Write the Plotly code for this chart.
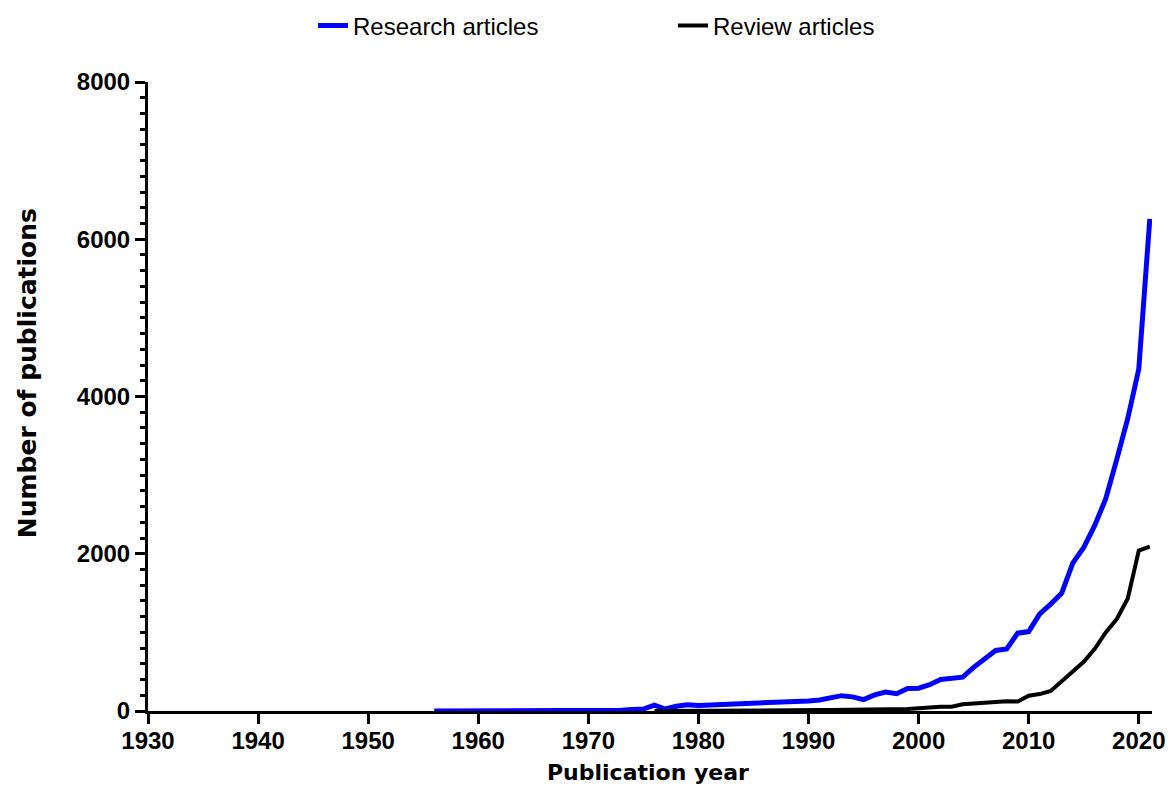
import plotly.graph_objects as go

research_years = list(range(1956, 2022))
research_counts = [
    0, 0, 0, 0, 0, 0, 0, 0,          # 1956-1963
    10, 10, 10, 10, 10, 10,          # 1964-1969
    5, 0, 5, 10, 20, 25,             # 1970-1975
    75, 25, 60, 80, 70, 75, 80, 80, 90, 100,   # 1976-1985
    105, 115, 120, 120, 128, 140, 170, 195, 180, 145,  # 1986-1995
    205, 240, 220, 285, 290, 335, 400, 410, 430, 555,  # 1996-2005
    665, 770, 790, 990, 1010, 1235, 1360, 1500, 1880, 2080,  # 2006-2015
    2360, 2700, 3200, 3720, 4350, 6260,  # 2016-2021
]

review_years = list(range(1976, 2022))
review_counts = [
    0, 0, 0, 2, 3, 3, 4, 5, 5, 5,        # 1976-1985
    6, 7, 8, 8, 10, 12, 14, 15, 15, 15,  # 1986-1995
    18, 20, 22, 25, 35, 50, 55, 55, 85, 95,  # 1996-2005
    100, 115, 125, 120, 195, 215, 255, 380, 490, 625,  # 2006-2015
    790, 1000, 1170, 1430, 2040, 2090,  # 2016-2021
]

x_ticks = [1930, 1940, 1950, 1960, 1970, 1980, 1990, 2000, 2010, 2020]
y_ticks = [0, 2000, 4000, 6000, 8000]

fig = go.Figure()
fig.add_trace(go.Scatter(x=research_years, y=research_counts, mode="lines",
                         name="Research articles",
                         line=dict(color="#0000FF", width=5)))
fig.add_trace(go.Scatter(x=review_years, y=review_counts, mode="lines",
                         name="Review articles",
                         line=dict(color="#000000", width=4)))

tickfont = dict(family="Liberation Sans, Arial, sans-serif", size=24,
                color="black", weight="bold")
title_family = "DejaVu Sans, sans-serif"

fig.update_layout(
    width=1170, height=788,
    margin=dict(l=148, r=18, t=82, b=77, autoexpand=False),
    paper_bgcolor="white", plot_bgcolor="white",
    showlegend=True,
    legend=dict(orientation="h", xref="container", yref="container",
                x=313 / 1170, xanchor="left", y=1 - 26 / 788, yanchor="middle",
                font=dict(family="Liberation Sans, Arial, sans-serif", size=24, color="black"),
                entrywidth=315, entrywidthmode="pixels", itemwidth=30),
    xaxis=dict(range=[1930, 2021.2], tickvals=x_ticks, ticks="outside", ticklen=10,
               tickwidth=3, tickcolor="black", showline=True, linewidth=3,
               linecolor="black", showgrid=False, zeroline=False, automargin=False,
               ticklabelstandoff=-4, tickfont=tickfont),
    yaxis=dict(range=[0, 8000], tickvals=y_ticks, ticks="outside", ticklen=10,
               tickwidth=3, tickcolor="black", showline=True, linewidth=3,
               linecolor="black", showgrid=False, zeroline=False, automargin=False,
               tickfont=tickfont,
               minor=dict(dtick=200, ticks="outside", ticklen=5, tickwidth=2.5,
                          tickcolor="black", showgrid=False)),
    annotations=[
        dict(text="Number of publications", xref="paper", yref="paper",
             x=-0.1205, y=0.537, xanchor="center", yanchor="middle",
             textangle=-90, showarrow=False,
             font=dict(family=title_family, size=25, color="black", weight="bold")),
        dict(text="Publication year", xref="paper", yref="paper",
             x=0.498, y=-0.098, xanchor="center", yanchor="middle",
             showarrow=False,
             font=dict(family=title_family, size=22, color="black", weight="bold")),
    ],
)

fig.write_html("out.html", config={"displayModeBar": False},
               post_script="document.body.style.margin='0';document.body.style.padding='0';")
